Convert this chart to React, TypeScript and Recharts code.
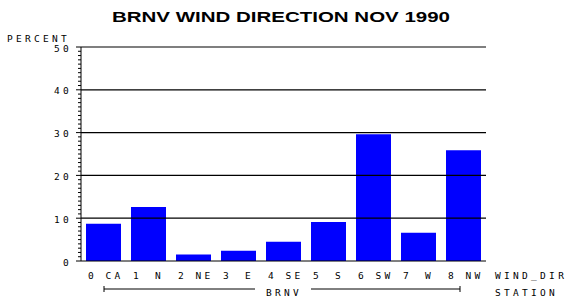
import React from "react";
import { BarChart, Bar, XAxis, YAxis, ReferenceLine } from "recharts";

const dirCodes = ["0", "1", "2", "3", "4", "5", "6", "7", "8"];
const dirNames = ["CA", "N", "NE", "E", "SE", "S", "SW", "W", "NW"];
const percents = [8.7, 12.6, 1.5, 2.4, 4.5, 9.1, 29.6, 6.6, 25.9];
const gridValues = [10, 20, 30, 40, 50];
const yTicks = Array.from({ length: 51 }, (_, i) => i);

const data = dirCodes.map((c, i) => ({ code: c, name: dirNames[i], pct: percents[i] }));

const MONO = "'DejaVu Sans Mono', monospace";
const lbl = { fontFamily: MONO, fontSize: 9.5, letterSpacing: 3.3, fill: "#000" };

function YTick(props: any) {
  const { x, y, payload } = props;
  const major = payload.value % 10 === 0;
  return (
    <g>
      <line x1={x - (major ? 5 : 3)} x2={x} y1={y} y2={y} stroke="#000" />
      {major && (
        <text x={x - 9} y={y} dy={4.6} textAnchor="end" style={lbl}>
          {payload.value}
        </text>
      )}
    </g>
  );
}

function XTick(props: any) {
  const { x, y, index } = props;
  return (
    <g>
      <text x={x - 11} y={y} dy={18} textAnchor="middle" style={lbl}>
        {dirCodes[index]}
      </text>
      <text x={x + 11} y={y} dy={18} textAnchor="middle" style={lbl}>
        {dirNames[index]}
      </text>
    </g>
  );
}

export default function App() {
  return (
    <div style={{ position: "absolute", left: 0, top: 0, width: 570, height: 300, background: "#fff" }}>
      <BarChart width={570} height={300} data={data} margin={{ top: 47, right: 84, bottom: 9, left: 51 }}>
        <XAxis
          dataKey="code"
          height={30}
          tickSize={0}
          tickMargin={0}
          tickLine={false}
          axisLine={{ stroke: "#000" }}
          tick={<XTick />}
          interval={0}
        />
        <YAxis
          width={30}
          domain={[0, 50]}
          ticks={yTicks}
          interval={0}
          tickSize={0}
          tickMargin={0}
          tickLine={false}
          axisLine={{ stroke: "#000" }}
          tick={<YTick />}
        />
        {gridValues.map((v) => (
          <ReferenceLine key={v} y={v} stroke="#000" strokeWidth={1.2} />
        ))}
        <Bar dataKey="pct" fill="#0000ff" barSize={35} isAnimationActive={false} />
      </BarChart>
      <svg width={570} height={300} style={{ position: "absolute", left: 0, top: 0, pointerEvents: "none" }}>
        <text
          x={281}
          y={22}
          textAnchor="middle"
          textLength={338}
          lengthAdjust="spacingAndGlyphs"
          style={{ fontFamily: "'Liberation Sans', Arial, sans-serif", fontWeight: "bold", fontSize: 14 }}
        >
          BRNV WIND DIRECTION NOV 1990
        </text>
        <text x={7} y={42} style={lbl}>PERCENT</text>
        <text x={495} y={279} style={lbl}>WIND_DIR</text>
        <text x={495} y={296} style={lbl}>STATION</text>
        <text x={284} y={296} textAnchor="middle" style={lbl}>BRNV</text>
        <line x1={104} x2={255} y1={289} y2={289} stroke="#000" />
        <line x1={311} x2={460} y1={289} y2={289} stroke="#000" />
        <line x1={104} x2={104} y1={286} y2={292} stroke="#000" />
        <line x1={460} x2={460} y1={286} y2={292} stroke="#000" />
      </svg>
    </div>
  );
}
